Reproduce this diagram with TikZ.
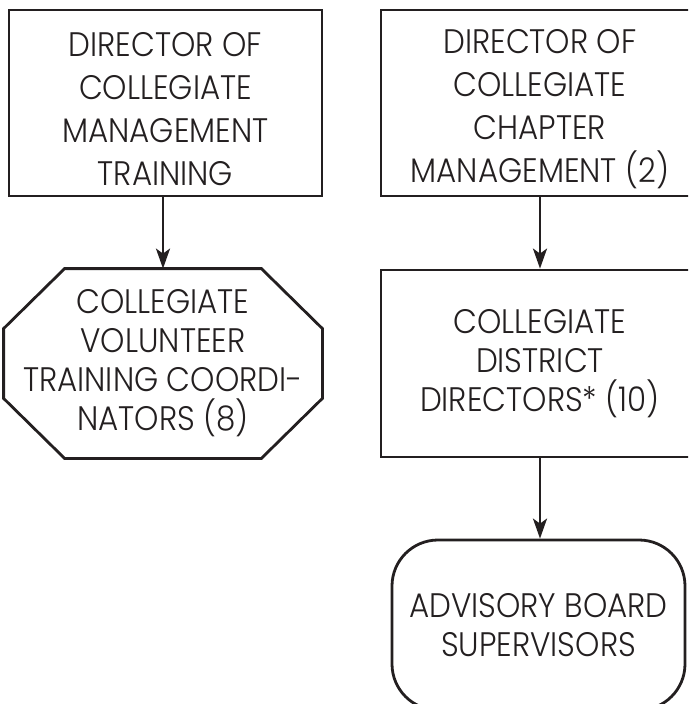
\documentclass[tikz,border=0pt]{standalone}
\usepackage{fontspec}
\setmainfont{Poppins}[UprightFont=* Light, FakeStretch=0.91]
\usetikzlibrary{arrows.meta}
\definecolor{ink}{HTML}{231F20}
\begin{document}
\begin{tikzpicture}[x=1pt,y=-1pt,
  shp/.style={draw=ink, line width=2.8pt, text=ink, align=center,
    font=\fontsize{34}{39}\selectfont, inner sep=0pt},
  boxa/.style={shp, rectangle},
  lbl/.style={text=ink, align=center, font=\fontsize{34}{43}\selectfont, inner sep=0pt},
  octo/.style={shp, rectangle, draw=none},
  edge/.style={draw=ink, line width=2.8pt, line join=miter},
  rbox/.style={shp, rectangle, rounded corners=46pt},
  arr/.style={draw=ink, line width=2.6pt, -{Stealth[length=20pt,width=14pt,inset=5pt]}}]
\useasboundingbox (0,0) rectangle (688,704);
\clip (0,0) rectangle (688,704);
\node[boxa, minimum width=313pt, minimum height=186pt,
  label={[lbl, yshift=-6pt, name=t1]center:{DIRECTOR OF\\COLLEGIATE\\MANAGEMENT\\TRAINING}}]
  (b1) at (165.5,103) {};
\node[boxa, minimum width=318pt, minimum height=186pt,
  label={[lbl, yshift=-6pt, name=t2]center:{DIRECTOR OF\\COLLEGIATE\\CHAPTER\\MANAGEMENT (2)}}]
  (b2) at (540,103) {};
\node[octo, minimum width=316pt, minimum height=187pt] (o1) at (163,363.5)
  {COLLEGIATE\\VOLUNTEER\\TRAINING COORDI-\\NATORS (8)};
\draw[edge] ([xshift=61pt]o1.north west) -- ([xshift=-61pt]o1.north east)
  -- ([yshift=-60pt]o1.north east) -- ([yshift=60pt]o1.south east)
  -- ([xshift=-61pt]o1.south east) -- ([xshift=61pt]o1.south west)
  -- ([yshift=60pt]o1.south west) -- ([yshift=-60pt]o1.north west) -- cycle;
\node[boxa, minimum width=318pt, minimum height=187pt] (b3) at (540,363.5)
  {COLLEGIATE\\DISTRICT\\DIRECTORS* (10)};
\node[rbox, minimum width=293pt, minimum height=170pt] (r1) at (538.5,625)
  {ADVISORY BOARD\\SUPERVISORS};
\draw[arr] (b1.south -| o1.north) -- (o1.north);
\draw[arr] (b2.south) -- (b3.north);
\draw[arr] (b3.south) -- (b3.south |- r1.north);
\end{tikzpicture}
\end{document}
